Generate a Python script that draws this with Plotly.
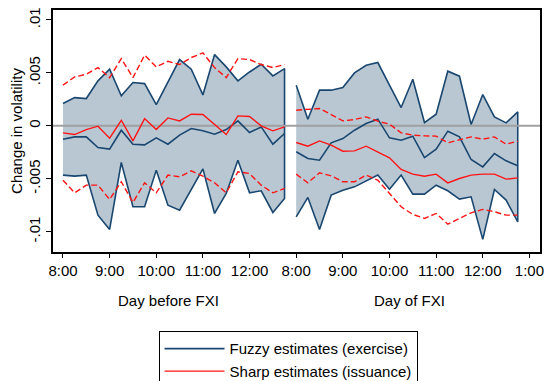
import plotly.graph_objects as go

# 15-minute slots from 8:00 to 12:45 on each day
slots = [f"{8 + i // 4}:{(i % 4) * 15:02d}" for i in range(20)]

# Day before FXI
fuzzy_before = [-0.00126, -0.00104, -0.00104, -0.00204, -0.00220, -0.00041, -0.00173, -0.00179, -0.00113, -0.00173,
                -0.00088, -0.00025, -0.00047, -0.00079, -0.00035, 0.00047, -0.00063, -0.00010, -0.00173, -0.00072]
fuzzy_before_hi = [0.00211, 0.00267, 0.00258, 0.00425, 0.00535, 0.00283, 0.00409, 0.00399, 0.00201, 0.00406,
                   0.00626, 0.00535, 0.00292, 0.00673, 0.00557, 0.00425, 0.00509, 0.00582, 0.00472, 0.00541]
fuzzy_before_lo = [-0.00465, -0.00475, -0.00465, -0.00843, -0.00978, -0.00346, -0.00764, -0.00764, -0.00418, -0.00749,
                   -0.00796, -0.00607, -0.00406, -0.00827, -0.00638, -0.00324, -0.00632, -0.00613, -0.00818, -0.00686]
sharp_before = [-0.00066, -0.00082, -0.00035, -0.00003, -0.00116, 0.00053, -0.00142, 0.00069, -0.00035, 0.00075,
                0.00047, 0.00110, 0.00107, 0.00016, -0.00082, 0.00094, 0.00088, 0.00000, -0.00047, -0.00010]
sharp_before_hi = [0.00384, 0.00462, 0.00487, 0.00550, 0.00456, 0.00635, 0.00456, 0.00667, 0.00557, 0.00610,
                   0.00579, 0.00645, 0.00689, 0.00550, 0.00456, 0.00635, 0.00626, 0.00579, 0.00550, 0.00579]
sharp_before_lo = [-0.00513, -0.00632, -0.00560, -0.00560, -0.00695, -0.00528, -0.00723, -0.00538, -0.00632, -0.00465,
                   -0.00481, -0.00425, -0.00475, -0.00538, -0.00632, -0.00434, -0.00450, -0.00560, -0.00632, -0.00591]

# Day of FXI
fuzzy_of = [-0.00245, -0.00308, -0.00324, -0.00160, -0.00120, -0.00041, 0.00022, 0.00063, -0.00113, -0.00135,
            -0.00097, -0.00299, -0.00220, -0.00050, -0.00104, -0.00318, -0.00387, -0.00261, -0.00330, -0.00377]
fuzzy_of_hi = [0.00384, 0.00063, 0.00337, 0.00337, 0.00362, 0.00500, 0.00572, 0.00598, 0.00384, 0.00173,
               0.00440, 0.00031, 0.00110, 0.00516, 0.00469, 0.00013, 0.00296, 0.00085, 0.00028, 0.00132]
fuzzy_of_lo = [-0.00859, -0.00676, -0.00978, -0.00654, -0.00607, -0.00576, -0.00519, -0.00465, -0.00598, -0.00465,
               -0.00645, -0.00645, -0.00560, -0.00613, -0.00692, -0.00670, -0.01072, -0.00601, -0.00701, -0.00906]
sharp_of = [-0.00157, -0.00192, -0.00142, -0.00182, -0.00239, -0.00236, -0.00192, -0.00245, -0.00302, -0.00412,
            -0.00456, -0.00475, -0.00456, -0.00538, -0.00497, -0.00465, -0.00456, -0.00456, -0.00503, -0.00491]
sharp_of_hi = [0.00148, 0.00154, 0.00164, 0.00107, 0.00047, 0.00060, 0.00085, 0.00044, 0.00016, -0.00066,
               -0.00088, -0.00094, -0.00097, -0.00160, -0.00129, -0.00104, -0.00126, -0.00104, -0.00173, -0.00145]
sharp_of_lo = [-0.00456, -0.00538, -0.00443, -0.00472, -0.00528, -0.00528, -0.00465, -0.00513, -0.00638, -0.00764,
               -0.00836, -0.00874, -0.00827, -0.00928, -0.00874, -0.00821, -0.00789, -0.00811, -0.00843, -0.00843]

tick_labels = ["8:00", "9:00", "10:00", "11:00", "12:00", "8:00", "9:00", "10:00", "11:00", "12:00", "1:00"]
y_ticks = [-0.01, -0.005, 0, 0.005, 0.01]
y_tick_labels = ["-.01", "-.005", "0", ".005", ".01"]
day_labels = ["Day before FXI", "Day of FXI"]


def to_hours(s, day):
    h, m = s.split(":")
    return day * 5 + int(h) - 8 + int(m) / 60


t_before = [to_hours(s, 0) for s in slots]
t_of = [to_hours(s, 1) for s in slots]

NAVY = "rgb(26,71,111)"
BAND = "rgb(185,199,211)"
RED = "rgb(255,20,20)"
FONT = "Liberation Sans, Arial, sans-serif"

fig = go.Figure()

panels = [
    (t_before, fuzzy_before, fuzzy_before_hi, fuzzy_before_lo, sharp_before, sharp_before_hi, sharp_before_lo, True),
    (t_of, fuzzy_of, fuzzy_of_hi, fuzzy_of_lo, sharp_of, sharp_of_hi, sharp_of_lo, False),
]

# confidence bands for the fuzzy estimates
for t, f, fhi, flo, s, shi, slo, first in panels:
    fig.add_trace(go.Scatter(
        x=t + t[::-1], y=fhi + flo[::-1], mode="lines", fill="toself",
        fillcolor=BAND, line=dict(color=NAVY, width=1.6), showlegend=False, hoverinfo="skip"))

# zero reference line
fig.add_trace(go.Scatter(
    x=[-0.214, 10.227], y=[0, 0], mode="lines",
    line=dict(color="rgb(160,160,160)", width=2), showlegend=False, hoverinfo="skip"))

for t, f, fhi, flo, s, shi, slo, first in panels:
    fig.add_trace(go.Scatter(
        x=t, y=f, mode="lines", line=dict(color=NAVY, width=1.6),
        name="Fuzzy estimates (exercise)", showlegend=first, legendrank=1))
    fig.add_trace(go.Scatter(
        x=t, y=s, mode="lines", line=dict(color=RED, width=1.4),
        name="Sharp estimates (issuance)", showlegend=first, legendrank=2))
    for band in (shi, slo):
        fig.add_trace(go.Scatter(
            x=t, y=band, mode="lines", line=dict(color=RED, width=1.4, dash="6px,3px"),
            showlegend=False))

for xpos, text in zip([2.265, 7.43], day_labels):
    fig.add_annotation(x=xpos, xref="x", y=-0.2, yref="paper", text=text, showarrow=False,
                       font=dict(size=15, color="black", family=FONT), yanchor="middle")

fig.update_layout(
    width=546, height=381,
    margin=dict(l=53, r=6, t=10, b=129, autoexpand=False),
    paper_bgcolor="white", plot_bgcolor="white",
    font=dict(family=FONT, size=15, color="black"),
    showlegend=True,
    legend=dict(
        x=0.2167, y=-0.328, xanchor="left", yanchor="top",
        bordercolor="black", borderwidth=1, bgcolor="white",
        font=dict(size=15, family=FONT), itemwidth=60, tracegroupgap=0),
    xaxis=dict(
        range=[-0.214, 10.227], tickvals=list(range(11)), ticktext=tick_labels,
        showgrid=False, zeroline=False, showline=True, linecolor="black", linewidth=1.5,
        mirror=True, ticks="outside", ticklen=4, tickcolor="black", tickwidth=1,
        tickfont=dict(size=15)),
    yaxis=dict(
        range=[-0.01191, 0.01094], tickvals=y_ticks, ticktext=y_tick_labels, tickangle=-90,
        showgrid=False, zeroline=False, showline=True, linecolor="black", linewidth=1.5,
        mirror=True, ticks="outside", ticklen=5, tickcolor="black", tickwidth=1,
        tickfont=dict(size=15),
        title=dict(text="Change in volatility", font=dict(size=15), standoff=0)),
)

fig.write_html("out.html")
